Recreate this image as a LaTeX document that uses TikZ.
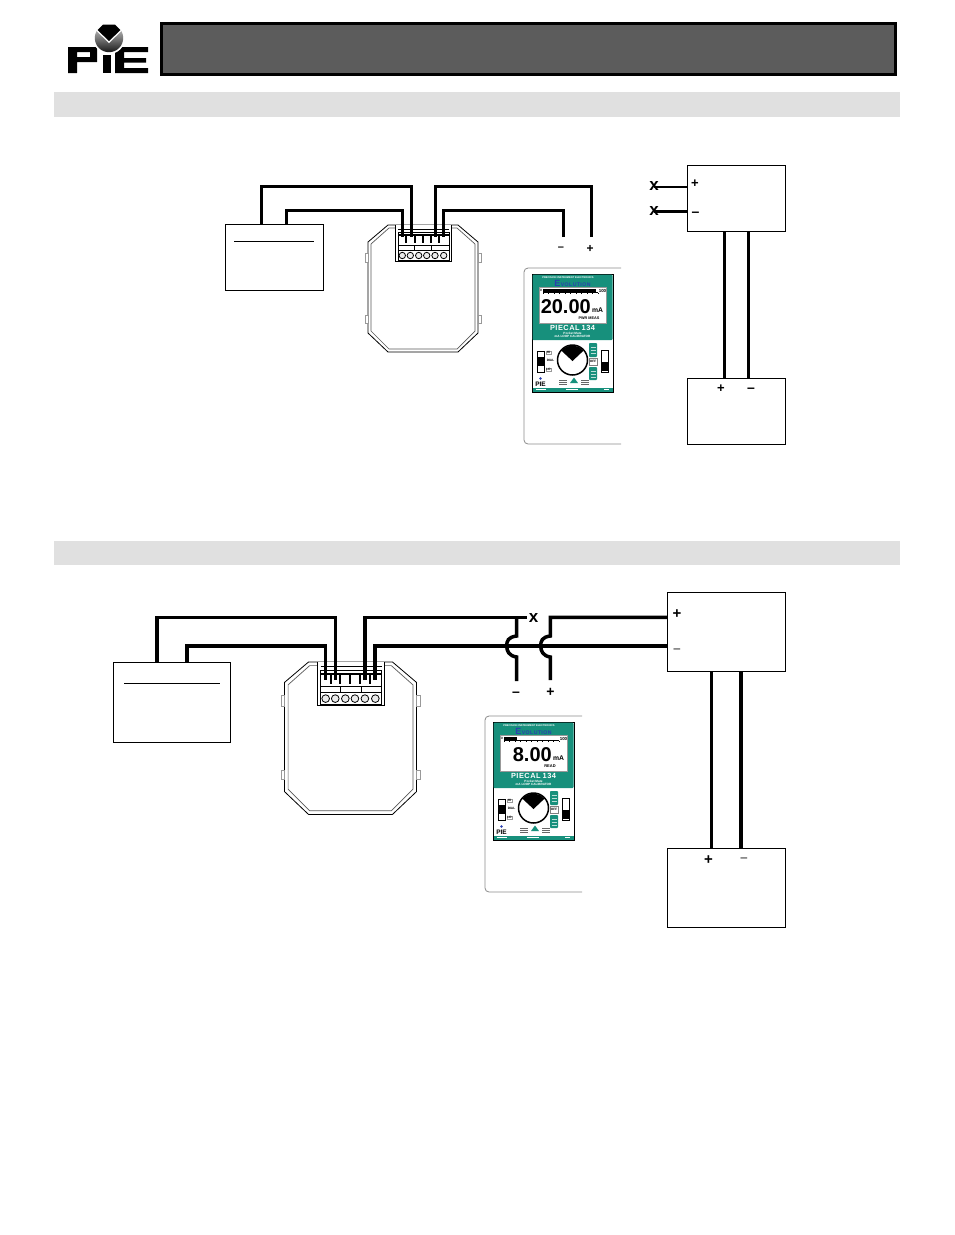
\documentclass[tikz,border=0pt]{standalone}
\usepackage{fontspec}
\setmainfont{Liberation Sans}
\definecolor{pieteal}{HTML}{17907C}
\definecolor{pieblue}{HTML}{2A3FB0}
\tikzset{
  wire/.style={line width=3pt,line join=miter},
  wiretwo/.style={line width=3.5pt,line join=miter},
  thinwire/.style={line width=2pt},
  box/.style={draw=black,line width=1pt,fill=white,rectangle,inner sep=0pt},
  sign/.style={font=\bfseries\fontsize{13}{13}\selectfont,inner sep=0pt},
  cross/.style={font=\bfseries\fontsize{17}{17}\selectfont,inner sep=0pt},
  tiny w/.style={font=\bfseries\fontsize{2.6}{3}\selectfont,text=white,inner sep=0pt},
  tiny k/.style={font=\bfseries\fontsize{3.2}{3.4}\selectfont,text=black,inner sep=0pt},
  devline/.style={line width=.8pt,draw=black},
}
\newcommand{\pietransmitter}[3]{%
 \begin{scope}[shift={(#1,#2)},scale=#3]
  \draw[devline,fill=white] (20,0)--(90,0)--(110,17)--(110,108)--(90,127)--(20,127)--(0,108)--(0,17)--cycle;
  \draw[line width=.7pt,draw=black!65] (27,3)--(21,3)--(3,19)--(3,106)--(21,124)--(89,124)--(107,106)--(107,19)--(89,3)--(83,3);
  \draw[line width=.6pt,draw=black!40,fill=white] (0,28) rectangle (-3,37);
  \draw[line width=.6pt,draw=black!40,fill=white] (0,90) rectangle (-3,98);
  \draw[line width=.6pt,draw=black!40,fill=white] (110,28) rectangle (113,37);
  \draw[line width=.6pt,draw=black!40,fill=white] (110,90) rectangle (113,98);
  \draw[devline,fill=white] (27,0)--(27,36)--(83,36)--(83,0);
  \draw[line width=.7pt] (30,4)--(81,4) (30,7)--(81,7);
  \draw[line width=.7pt] (30,7)--(30,35)--(81,35)--(81,7);
  \draw[line width=.7pt] (30,20)--(81,20) (30,25.5)--(81,25.5);
  \draw[line width=.7pt] (46.3,20)--(46.3,25.5) (63.7,20)--(63.7,25.5);
  \foreach \px in {38.4,46.5,54.7,62.9,71.4}{\draw[line width=2pt] (\px,10)--(\px,18);}
  \draw[line width=1.2pt] (30,10)--(81,10);
  \foreach \px in {34.3,42.3,50.7,58.7,67,75.7}{\draw[line width=.8pt,fill=black!8] (\px,30.5) circle (3.2);}
 \end{scope}}
\newcommand{\piecalib}[7]{%
 \begin{scope}[shift={(#1,#2)}]
  % case
  \draw[line width=.8pt,draw=black!45,rounded corners=4pt] (621,268)--(524,268)--(524,444)--(621,444);
  % face
  \draw[line width=.7pt,fill=white] (532,274) rectangle (613,392);
  \fill[pieteal,rounded corners=1pt] (532.5,274.5) rectangle (612.5,340);
  \fill[pieteal] (532.5,387.5) rectangle (612.5,391.5);
  \draw[line width=.5pt,draw=black!40,fill=white] (539,287) rectangle (606.5,323);
  \node[tiny w] (#7pie) at (568,278) {PRECISION INSTRUMENT ELECTRONICS};
  \node[inner sep=0pt,text=pieblue,font=\bfseries\fontsize{5.2}{5}\selectfont] (#7evo) at (572.5,283) {{\fontsize{9}{8}\selectfont E}\kern.4pt V\kern.4pt O\kern.4pt L\kern.4pt U\kern.4pt T\kern.4pt I\kern.4pt O\kern.4pt N};
  \node[tiny k] (#7zero) at (541,290.5) {0};
  \draw[line width=.4pt] (543,292.5)--(598,292.5);
  \foreach \tk in {543,548.5,...,598.5}{\draw[line width=.3pt] (\tk,292.5)--(\tk,294);}
  \fill[black] (543,288.5) rectangle (#4,292.5);
  \node[tiny k,font=\bfseries\fontsize{4.4}{5}\selectfont] (#7hun) at (602.5,290.5) {100};
  \node[inner sep=0pt,anchor=east,font=\bfseries\fontsize{20}{22}\selectfont] (#7read) at (591,306.5) {#3};
  \node[inner sep=0pt,font=\bfseries\fontsize{6.8}{8}\selectfont] (#7ma) at (597.5,310.5) {mA};
  \node[inner sep=0pt,font=\bfseries\fontsize{#6}{5}\selectfont] (#7mode) at (589,318.6) {#5};
  \node[inner sep=0pt,text=white,font=\bfseries\fontsize{7.4}{8}\selectfont] (#7name) at (572.5,327.5) {P\kern.5pt I\kern.5pt E\kern.5pt C\kern.5pt A\kern.5pt L\kern2pt 1\kern.5pt 3\kern.5pt 4};
  \node[tiny w,font=\bfseries\fontsize{3.1}{4}\selectfont] (#7sub) at (572.5,332.9) {Pocket Mate};
  \node[tiny w,font=\bfseries\fontsize{3.1}{4}\selectfont] (#7sub2) at (572.5,336.7) {mA LOOP CALIBRATOR};
  % left switch
  \draw[line width=.5pt,fill=white] (537,351) rectangle (544,372);
  \fill[black] (537,357) rectangle (544,365.5);
  \node[tiny k,draw=black!40,line width=.3pt,inner sep=.6pt] (#7hi) at (548.5,352.5) {HI};
  \node[tiny k] (#7dial) at (550.5,360.5) {DIAL};
  \node[tiny k,draw=black!40,line width=.3pt,inner sep=.6pt] (#7lo) at (548.5,369.5) {LO};
  % knob
  \draw[line width=1.5pt,fill=white] (572.5,360) circle (15);
  \fill[black] (561.4,350.7) arc[start angle=-140,end angle=-40,radius=14.4] -- (572.5,361) -- cycle;
  % buttons
  \fill[pieteal,rounded corners=.8pt] (589,343) rectangle (597,357);
  \fill[pieteal,rounded corners=.8pt] (589,367) rectangle (597,380);
  \foreach \ly in {347,350,353,371,374,377}{\draw[white!70!pieteal,line width=.6pt] (590.5,\ly)--(595.5,\ly);}
  \draw[line width=.3pt,draw=black!50] (589,358.5) rectangle (597,365);
  \node[tiny k] (#7off) at (593,361.8) {OFF};
  % right switch
  \draw[line width=.5pt,fill=white] (601,350) rectangle (608,372);
  \fill[black] (601,362) rectangle (608,371);
  % small logo and legend marks
  \node[inner sep=0pt,font=\bfseries\fontsize{6.5}{7}\selectfont] (#7pl) at (540.5,384) {PIE};
  \fill[pieblue] (540.5,378.5) circle (1.3);
  \fill[pieteal] (574,377.5)--(570,383)--(578,383)--cycle;
  \foreach \ly in {380,382,384}{\draw[black!60,line width=.5pt] (559,\ly)--(567,\ly) (581,\ly)--(589,\ly);}
  \draw[white,line width=.7pt] (536,389.5)--(546,389.5) (566,389.5)--(578,389.5) (604,389.5)--(609,389.5);
 \end{scope}}
\begin{document}
\begin{tikzpicture}[x=1pt,y=-1pt]
\useasboundingbox (0,0) rectangle (954,1235);
\fill[white] (0,0) rectangle (954,1235);
% header
\draw[line width=3pt,fill=black!64] (161.5,23.5) rectangle (895.5,74.5);
\fill[black!12] (54,92) rectangle (900,117);
\fill[black!12] (54,541) rectangle (900,565);
% logo
\fill[black,even odd rule,rounded corners=.1pt] (68,47)--(97,47)--(97,62)--(77,62)--(77,73)--(68,73)--cycle (77,52)--(77,57)--(90,57)--(90,52)--cycle;
\fill[black] (103,55) rectangle (111,73);
\fill[black] (115,47) rectangle (148,52) (115,47) rectangle (124,73) (115,58) rectangle (146,62.5) (115,68) rectangle (148,73);
\fill[white] (109,38) circle (16);
\shade[top color=black!15,bottom color=black!90] (109,38) circle (14.2);
\fill[white] (95.5,30)--(102.5,23)--(115.5,23)--(122.5,30)--(109,43)--cycle;
\fill[black] (97.5,30)--(103,24.5)--(115,24.5)--(120.5,30)--(109,41)--cycle;
% ---------- section 1 ----------
\node[box,minimum width=97.5pt,minimum height=66pt] (loadA) at (274.25,257) {};
\draw[line width=1pt] (234,241)--(314,241);
\pietransmitter{368}{225}{1}
\piecalib{0}{0}{20.00}{596}{PWR MEAS}{3.8}{ca}
\node[box,minimum width=98pt,minimum height=66pt] (supA) at (736.25,198) {};
\node[box,minimum width=98pt,minimum height=66pt] (dcsA) at (736.25,411) {};
\coordinate (railAu) at (0,186);
\coordinate (railAl) at (0,210);
\coordinate (a1) at (261,224);
\coordinate (a2) at (286,224);
\coordinate (t1) at (402.5,237);
\coordinate (t2) at (411,237);
\coordinate (t3) at (435.5,237);
\coordinate (t4) at (443.8,237);
\coordinate (pm) at (563,237);
\coordinate (pp) at (591,237);
\draw[wire] (a1)--(a1|-railAu)--(t2|-railAu)--(t2);
\draw[wire] (a2)--(a2|-railAl)--(t1|-railAl)--(t1);
\draw[wire] (pp)--(pp|-railAu)--(t3|-railAu)--(t3);
\draw[wire] (pm)--(pm|-railAl)--(t4|-railAl)--(t4);
\node[sign,font=\bfseries\fontsize{11}{11}\selectfont] (lm1) at (561,249) {–};
\node[sign,font=\bfseries\fontsize{12}{12}\selectfont] (lp1) at (590,248.5) {+};
\node[cross] (xa) at (654,186.5) {x};
\node[cross] (xb) at (654,211) {x};
\draw[thinwire] (xa.center)--(xa.center-|supA.west);
\draw[wire] (xb.center)--(xb.center-|supA.west);
\node[sign] (spA) at (695,184) {+};
\node[sign,font=\bfseries\fontsize{14}{14}\selectfont] (smA) at (695.5,214.5) {–};
\coordinate (sa1) at (724.3,231);
\coordinate (sa2) at (748.3,231);
\draw[wire] (sa1)--(sa1|-dcsA.north);
\draw[wire] (sa2)--(sa2|-dcsA.north);
\node[sign] (dpA) at (721,388.5) {+};
\node[sign,font=\bfseries\fontsize{14}{14}\selectfont] (dmA) at (751,390.5) {–};
% ---------- section 2 ----------
\node[box,minimum width=117.5pt,minimum height=80pt] (loadB) at (171.75,702) {};
\draw[line width=1pt] (124,683)--(220,683);
\pietransmitter{284.5}{662}{1.2}
\piecalib{-39}{448}{8.00}{556}{READ}{4}{cb}
\node[box,minimum width=118pt,minimum height=79pt] (supB) at (726.25,631.5) {};
\node[box,minimum width=118pt,minimum height=79pt] (dcsB) at (726.25,887.5) {};
\coordinate (railBu) at (0,617.3);
\coordinate (railBl) at (0,646);
\coordinate (b1) at (157,662);
\coordinate (b2) at (187,662);
\coordinate (u1) at (325.7,680);
\coordinate (u2) at (335.7,680);
\coordinate (u3) at (365,680);
\coordinate (u4) at (375,680);
\draw[wiretwo] (b1)--(b1|-railBu)--(u2|-railBu)--(u2);
\draw[wiretwo] (b2)--(b2|-railBl)--(u1|-railBl)--(u1);
\node[cross] (xc) at (533.5,617.5) {x};
\draw[wiretwo] (u3)--(u3|-railBu)--(527,617.3);
\draw[wiretwo] (u4)--(u4|-railBl)--(supB.west|-railBl);
\coordinate (jm) at (516.7,617.3);
\coordinate (jp) at (550.3,617.3);
\coordinate (em) at (516.7,681);
\coordinate (ep) at (550.3,680);
\draw[wiretwo] (jm)--(516.7,636) .. controls (508,637) and (506.7,641) .. (506.7,646) .. controls (506.7,651) and (509,656) .. (516.7,657)--(em);
\draw[wiretwo] (supB.west|-railBu)--(jp)--(550.3,636) .. controls (542,637) and (540.7,641) .. (540.7,646) .. controls (540.7,651) and (543,656) .. (550.3,657)--(ep);
\node[sign,font=\bfseries\fontsize{14}{14}\selectfont] (lm2) at (516,694) {–};
\node[sign,font=\bfseries\fontsize{14}{14}\selectfont] (lp2) at (550.5,692.5) {+};
\node[sign,font=\bfseries\fontsize{15}{15}\selectfont] (spB) at (677,614.5) {+};
\node[sign,font=\fontsize{12}{12}\selectfont] (smB) at (677,651) {–};
\coordinate (sb1) at (711.5,671);
\coordinate (sb2) at (741,671);
\draw[wiretwo] (sb1)--(sb1|-dcsB.north);
\draw[wiretwo] (sb2)--(sb2|-dcsB.north);
\node[sign,font=\bfseries\fontsize{15}{15}\selectfont] (dpB) at (708.5,860.5) {+};
\node[sign,font=\fontsize{12}{12}\selectfont] (dmB) at (744,859.5) {–};
\end{tikzpicture}
\end{document}
